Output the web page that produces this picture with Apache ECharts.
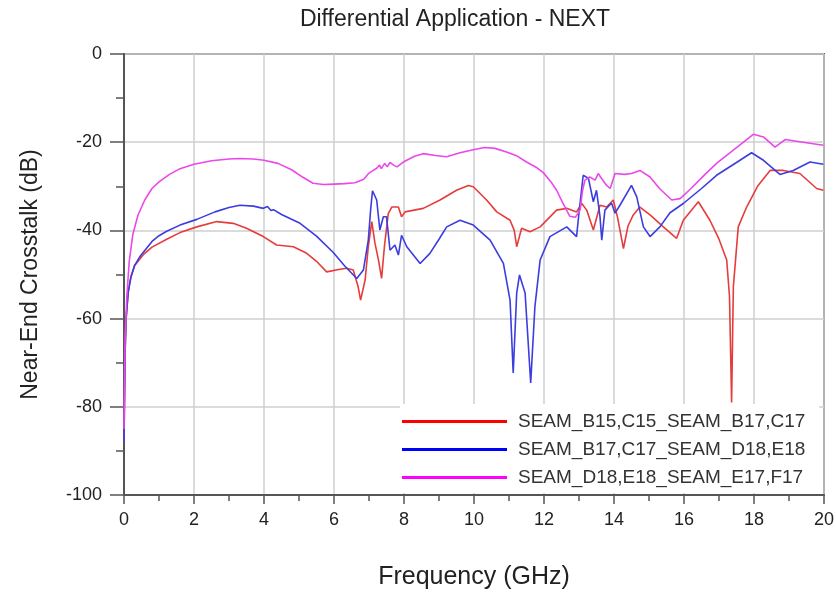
<!DOCTYPE html>
<html>
<head>
<meta charset="utf-8">
<script src="https://cdn.jsdelivr.net/npm/echarts@6/dist/echarts.min.js"></script>
<style>html,body{margin:0;padding:0;background:#fff;}#c{width:836px;height:592px;}</style>
</head>
<body>
<div id="c"></div>
<script>
const titleText = 'Differential Application - NEXT';
const xName = 'Frequency (GHz)';
const yName = 'Near-End Crosstalk (dB)';
const seriesNames = ['SEAM_B15,C15_SEAM_B17,C17', 'SEAM_B17,C17_SEAM_D18,E18', 'SEAM_D18,E18_SEAM_E17,F17'];

const redF = [0,0.03,0.06,0.12,0.2,0.3,0.55,0.8,1.22,1.6,2.08,2.65,3.12,3.5,3.98,4.36,4.84,5.22,5.5,5.79,6.17,6.36,6.55,6.69,6.76,6.89,6.98,7.08,7.17,7.27,7.36,7.44,7.55,7.65,7.84,7.93,8.03,8.55,9.03,9.5,9.84,9.98,10.36,10.65,11.03,11.15,11.22,11.36,11.6,11.89,12.36,12.65,12.93,13.08,13.22,13.41,13.6,13.79,13.98,14.1,14.27,14.4,14.55,14.74,15.03,15.41,15.79,15.98,16.41,16.74,17.0,17.22,17.3,17.36,17.41,17.55,17.79,18.1,18.46,18.84,19.31,19.79,19.98];
const redDb = [-88,-68,-60,-54,-50.5,-48,-45.5,-43.8,-42,-40.5,-39.2,-38,-38.4,-39.5,-41.4,-43.3,-43.7,-45.2,-47,-49.4,-48.8,-48.6,-49,-52.8,-55.8,-51.2,-43.7,-38,-42.9,-46.7,-50.9,-43.7,-36.2,-34.7,-34.7,-36.9,-35.8,-35,-33.1,-30.9,-29.8,-30.1,-33.1,-35.8,-37.7,-40,-43.7,-39.5,-40.3,-39.2,-35.4,-35,-35.8,-33.9,-35.4,-39.9,-34.3,-34.7,-33.1,-37,-44.1,-39,-36.5,-34.7,-36.5,-39.2,-41.8,-37.7,-33.5,-37.7,-42,-46.7,-55,-79,-52.8,-39.2,-34.7,-30,-26.4,-26.4,-27.1,-30.5,-30.9];

const blueF = [0,0.03,0.06,0.12,0.2,0.3,0.45,0.6,0.8,1.0,1.22,1.6,2.08,2.6,3.0,3.31,3.7,3.98,4.1,4.2,4.27,4.5,5.03,5.5,5.98,6.3,6.65,6.84,6.98,7.05,7.1,7.22,7.31,7.41,7.5,7.6,7.74,7.84,7.93,8.08,8.46,8.74,9.0,9.22,9.6,9.98,10.46,10.84,11.03,11.12,11.22,11.3,11.46,11.62,11.74,11.89,12.17,12.65,12.93,13.0,13.12,13.27,13.41,13.5,13.6,13.65,13.74,13.93,14.03,14.17,14.5,14.65,14.84,15.03,15.31,15.6,15.98,16.5,16.93,17.5,17.93,18.27,18.74,19.12,19.6,19.98];
const blueDb = [-88,-68,-60,-54,-50.5,-48,-46,-44.5,-42.5,-41.2,-40.2,-38.8,-37.5,-35.8,-34.8,-34.3,-34.5,-35,-34.6,-35.5,-35.3,-36.4,-38.4,-41.3,-45,-48,-50.9,-49,-42.2,-35,-31,-33.1,-39.9,-36.9,-36.9,-44.5,-43.3,-45.6,-41.1,-43.7,-47.5,-45.2,-42,-39.2,-37.7,-38.8,-42.2,-47.5,-55.8,-72.3,-54.2,-50.1,-54.2,-74.6,-57.3,-46.7,-41.4,-39.2,-41.4,-36,-27.5,-28.2,-33.5,-30.9,-36.9,-42.2,-35.4,-33.8,-36.1,-34.3,-29.8,-32.4,-39.2,-41.4,-39.2,-36,-33.9,-30.5,-27.5,-24.6,-22.4,-24.1,-27.3,-26.4,-24.5,-25];

const pinkF = [0,0.03,0.08,0.15,0.25,0.4,0.6,0.8,1.0,1.3,1.6,2.0,2.5,3.0,3.3,3.7,4.0,4.4,4.8,5.1,5.4,5.7,6.0,6.3,6.6,6.85,7.0,7.1,7.22,7.3,7.35,7.45,7.52,7.6,7.7,7.8,7.98,8.3,8.55,8.9,9.22,9.6,9.98,10.3,10.6,10.93,11.2,11.5,11.8,11.98,12.2,12.36,12.55,12.74,12.9,13.03,13.1,13.17,13.31,13.46,13.55,13.65,13.79,13.89,14.03,14.3,14.5,14.74,15.03,15.3,15.65,15.89,16.2,16.6,16.93,17.3,17.7,17.98,18.27,18.6,18.89,19.4,19.98];
const pinkDb = [-85,-65,-55,-47,-41,-36.5,-33,-30.5,-29,-27.3,-26,-25,-24.2,-23.8,-23.7,-23.8,-24.1,-24.8,-26.3,-27.9,-29.3,-29.6,-29.5,-29.4,-29.2,-28.4,-27,-26.5,-25.9,-25.2,-26,-24.8,-25.6,-24.6,-25.2,-25.6,-24.5,-23.2,-22.6,-23.0,-23.3,-22.4,-21.7,-21.2,-21.4,-22.2,-23,-24.5,-25.8,-26.9,-29,-30.9,-34,-36.8,-37,-35.4,-31,-28.6,-27.9,-28.6,-27.1,-28.3,-29.8,-30.5,-27.1,-27.3,-27.1,-26.4,-27.9,-30.5,-33.1,-32.8,-30.5,-27.3,-24.8,-22.5,-20,-18.2,-18.8,-21.1,-19.4,-20,-20.7];

const colors = ['#e63c3c', '#3c3ce0', '#ea48ea'];
const legendColors = ['#ff0000', '#0000ff', '#ff00ff'];

function pairs(f, v) { return f.map((x, i) => [x, v[i]]); }
const datasets = [pairs(redF, redDb), pairs(blueF, blueDb), pairs(pinkF, pinkDb)];

const chart = echarts.init(document.getElementById('c'), null, {renderer: 'canvas'});
const font = 'Liberation Sans, Arial, sans-serif';
chart.setOption({
  animation: false,
  backgroundColor: '#ffffff',
  title: {
    text: titleText, left: 450, top: 3, textAlign: 'center',
    textStyle: {fontFamily: font, fontSize: 23, fontWeight: 'normal', color: '#222'}
  },
  grid: {left: 124, right: 12, top: 54, bottom: 97, containLabel: false, outerBoundsMode: 'none', show: true, borderColor: '#666', borderWidth: 2, backgroundColor: 'transparent'},
  legend: {
    orient: 'vertical', left: 400, top: 404,
    icon: 'rect', itemWidth: 105, itemHeight: 3, itemGap: 9,
    backgroundColor: '#ffffff', padding: [8, 14, 6, 2],
    textStyle: {fontFamily: font, fontSize: 19, color: '#333', padding: [0, 0, 0, 6]},
    data: seriesNames.map((n, i) => ({name: n, itemStyle: {color: legendColors[i]}}))
  },
  xAxis: {
    type: 'value', min: 0, max: 20, interval: 2,
    name: xName, nameLocation: 'middle', nameGap: 70,
    nameTextStyle: {fontFamily: font, fontSize: 25, color: '#222'},
    axisLine: {show: true, onZero: false, lineStyle: {color: '#555', width: 2}},
    axisTick: {show: true, length: 9, lineStyle: {color: '#555', width: 1.5}},
    minorTick: {show: true, splitNumber: 2, length: 6, lineStyle: {color: '#555', width: 1.5}},
    axisLabel: {fontFamily: font, fontSize: 18, color: '#222', margin: 16},
    splitLine: {show: true, lineStyle: {color: '#cfcfcf', width: 1.5}}
  },
  yAxis: {
    type: 'value', min: -100, max: 0, interval: 20,
    name: yName, nameLocation: 'middle', nameGap: 82,
    nameTextStyle: {fontFamily: font, fontSize: 23, color: '#222'},
    axisLine: {show: true, onZero: false, lineStyle: {color: '#555', width: 2}},
    axisTick: {show: true, length: 14, lineStyle: {color: '#555', width: 1.5}},
    minorTick: {show: true, splitNumber: 2, length: 8, lineStyle: {color: '#555', width: 1.5}},
    axisLabel: {fontFamily: font, fontSize: 18, color: '#222', margin: 22},
    splitLine: {show: true, lineStyle: {color: '#cfcfcf', width: 1.5}}
  },
  series: seriesNames.map((n, i) => ({
    name: n, type: 'line', data: datasets[i], showSymbol: false, symbol: 'none',
    lineStyle: {color: colors[i], width: 1.6}, itemStyle: {color: colors[i]}, z: 2 + i
  }))
});
</script>
</body>
</html>
